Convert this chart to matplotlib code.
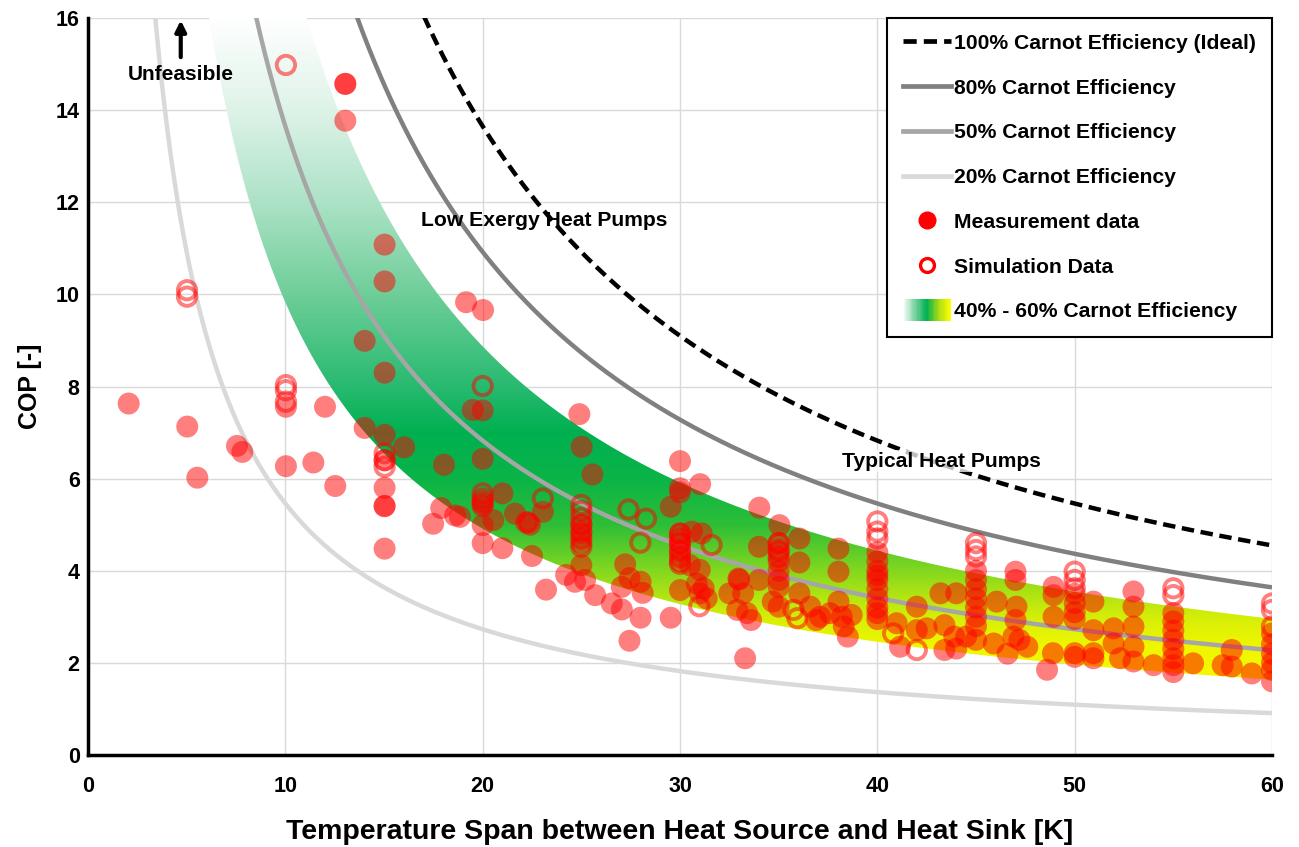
import numpy as np
import matplotlib
matplotlib.use("Agg")
import matplotlib.pyplot as plt
from matplotlib.lines import Line2D
from matplotlib.patches import Rectangle
from matplotlib.legend_handler import HandlerBase
from matplotlib.path import Path

plt.rcParams['font.family'] = ['Liberation Sans', 'DejaVu Sans']
plt.rcParams['font.weight'] = 'bold'

# ---------------- data ----------------
T_REF = 273.0  # K
carnot_effs = [1.0, 0.8, 0.5, 0.2]
carnot_labels = ["100% Carnot Efficiency (Ideal)", "80% Carnot Efficiency",
                 "50% Carnot Efficiency", "20% Carnot Efficiency"]
band_lo_eff = 0.36
band_hi_eff = 0.65
band_label = "40% - 60% Carnot Efficiency"

meas_x = [2.06, 5.03, 5.54, 7.55, 7.82, 10.03, 10.03, 11.42, 12.01, 12.53, 13.04, 13.04, 13.04,
          14.02, 14.02, 15.03, 15.03, 15.03, 15.03, 15.03, 15.03, 15.03, 15.03, 15.03, 16.02,
          17.49, 17.9, 18.04, 18.6, 18.85, 19.16, 19.5, 20.02, 20.0, 20.0, 20.0, 20.0, 20.0, 20.0,
          20.54, 21.0, 21.0, 21.64, 22.2, 22.4, 22.5, 23.05, 23.21, 24.23, 24.68, 24.9, 25.02,
          25.0, 25.0, 25.0, 25.0, 25.19, 25.56, 25.7, 26.54, 27.05, 27.05, 27.22, 27.44, 27.44,
          28.0, 28.11, 28.0, 29.53, 29.53, 30.0, 30.0, 30.0, 30.0, 30.0, 30.0, 30.0, 30.0,
          30.5, 30.6, 31.02, 31.0, 31.1, 30.85, 31.2, 31.0, 31.35, 32.5, 32.96, 32.9, 33.0, 33.2,
          33.3, 33.4, 33.6, 34.02, 34.0, 34.0, 34.7, 35.04, 35.0, 35.0, 35.0, 35.0, 35.0, 35.0,
          35.0, 36.05, 36.05, 36.05, 36.6, 37.1, 36.9, 37.6, 38.03, 38.03, 38.03, 38.2, 38.7,
          38.3, 38.5, 40.0, 40.0, 40.0, 40.0, 40.0, 40.0, 40.0, 40.0, 40.0, 40.0, 40.98, 41.15,
          42.0, 42.5, 42.0, 43.2, 43.4, 43.4, 44.0, 44.0, 43.9, 45.0, 45.0, 45.0, 45.0, 45.0,
          45.0, 45.0, 44.5, 45.0, 46.05, 45.9, 46.6, 47.0, 47.0, 47.05, 47.0, 46.9, 47.2, 47.6,
          48.6, 48.93, 48.93, 48.93, 48.9, 50.0, 50.0, 50.0, 50.0, 50.0, 50.0, 50.95, 50.95,
          50.95, 50.95, 51.97, 51.97, 52.3, 52.98, 52.98, 52.98, 52.98, 52.98, 54.0, 55.0, 55.0,
          55.0, 55.0, 55.0, 55.0, 55.0, 55.0, 56.0, 57.96, 57.96, 57.5, 58.98, 60.0, 60.0, 60.0,
          60.0, 60.0, 60.0]
meas_y = [7.63, 7.13, 6.02, 6.71, 6.58, 7.56, 6.27, 6.35, 7.56, 5.84, 14.57, 14.57, 13.77,
          8.99, 7.10, 11.08, 10.28, 8.30, 6.95, 6.40, 5.80, 5.41, 5.40, 4.48, 6.68,
          5.02, 5.36, 6.30, 5.20, 5.17, 9.83, 7.49, 9.66, 7.48, 6.43, 5.50, 5.40, 4.99, 4.60,
          5.10, 5.68, 4.49, 5.24, 5.05, 5.00, 4.32, 5.28, 3.59, 3.91, 3.76, 7.40, 6.69,
          5.00, 4.80, 4.60, 4.12, 3.80, 6.09, 3.47, 3.29, 3.65, 3.16, 4.14, 3.84, 2.48,
          3.76, 3.52, 2.98, 5.39, 2.98, 6.38, 5.79, 5.70, 4.80, 4.60, 4.40, 4.20, 3.58,
          4.12, 4.85, 5.88, 4.02, 4.81, 3.72, 3.62, 3.51, 3.40, 3.51, 3.83, 3.15, 3.81, 3.51,
          2.10, 3.08, 2.93, 5.37, 4.52, 3.80, 3.33, 4.99, 4.60, 4.40, 4.20, 4.00, 3.80, 3.65,
          3.22, 4.70, 4.18, 3.51, 3.22, 3.00, 2.93, 3.08, 4.48, 3.98, 3.33, 3.00, 3.04,
          2.79, 2.57, 4.40, 4.20, 4.00, 3.90, 3.80, 3.60, 3.40, 3.20, 3.08, 2.95, 2.86, 2.35,
          3.22, 2.75, 2.71, 3.51, 2.82, 2.28, 2.31, 3.51, 2.57, 4.00, 3.80, 3.60, 3.40, 3.20,
          3.00, 2.80, 2.57, 2.50, 3.33, 2.42, 2.20, 3.98, 3.80, 3.22, 2.93, 2.57, 2.50, 2.35,
          1.85, 3.65, 3.47, 3.00, 2.21, 3.50, 3.30, 3.10, 2.95, 2.21, 2.13, 3.33, 2.71,
          2.21, 2.10, 2.75, 2.42, 2.10, 3.55, 3.22, 2.79, 2.35, 2.03, 1.95, 3.08, 2.90,
          2.70, 2.50, 2.30, 2.10, 1.95, 1.80, 1.99, 2.28, 1.92, 1.95, 1.77, 2.64, 2.40, 2.20,
          2.00, 1.85, 1.60]

sim_x = [5.02, 5.02, 10.03, 10.03, 10.03, 10.03, 15.03, 15.03, 15.03, 20.0, 20.0, 20.0, 20.0,
         22.3, 23.05, 25.0, 25.0, 25.0, 25.0, 25.0, 25.0, 25.0, 27.39, 28.28, 27.99,
         30.0, 30.0, 30.0, 30.0, 30.0, 30.0, 30.98, 31.6, 35.0, 35.0, 35.0, 35.75, 35.95,
         40.0, 40.0, 40.0, 40.8, 42.0, 45.0, 45.0, 45.0, 50.0, 50.0, 50.0, 55.0, 55.0,
         60.0, 60.0, 60.0]
sim_y = [10.09, 9.95, 14.98, 8.03, 7.92, 7.67, 6.55, 6.40, 6.26, 8.01, 5.68, 5.57, 5.46,
         5.05, 5.57, 5.43, 5.30, 5.15, 5.00, 4.85, 4.70, 4.52, 5.33, 5.13, 4.61,
         4.81, 4.70, 4.60, 4.45, 4.30, 4.15, 3.23, 4.56, 4.60, 4.45, 4.30, 3.15, 2.97,
         5.07, 4.85, 4.70, 2.64, 2.28, 4.60, 4.45, 4.31, 3.98, 3.80, 3.62, 3.62, 3.47,
         3.29, 3.15, 2.79]

# ---------------- styling ----------------
line_colors = ['black', '#808080', '#A6A6A6', '#D9D9D9']
line_styles = [(0, (2.8, 1.5)), '-', '-', '-']

grad_stops_y = [1.0, 2.4, 3.0, 3.6, 4.3, 5.0, 6.0, 7.0, 8.0, 10.0, 12.0, 14.0, 16.0]
grad_stops_c = [(248, 252, 0), (238, 246, 0), (212, 238, 8), (165, 225, 22), (105, 208, 38),
                (45, 190, 55), (10, 180, 72), (0, 176, 80), (40, 186, 112), (110, 206, 152),
                (172, 226, 198), (222, 243, 232), (255, 255, 255)]

W, H = 1299, 847
fig = plt.figure(figsize=(W / 100, H / 100), dpi=100)
ax = fig.add_axes([88 / W, 1 - 755 / H, (1272 - 88) / W, (755 - 18) / H])

xx = np.linspace(0.5, 60, 2000)

# gradient band
x_band = np.linspace(band_lo_eff * T_REF / 17.0, 60, 800)
y_lo = band_lo_eff * T_REF / x_band
y_hi = np.minimum(band_hi_eff * T_REF / x_band, 17.0)
verts = np.vstack([np.column_stack([x_band, y_hi]), np.column_stack([x_band[::-1], y_lo[::-1]])])
clip_path = Path(verts, closed=True)
gy = np.linspace(0, 16, 600)
cs = np.array(grad_stops_c) / 255.0
img = np.zeros((len(gy), 1, 3))
for k in range(3):
    img[:, 0, k] = np.interp(gy, grad_stops_y, cs[:, k])
im = ax.imshow(img, extent=[0, 60, 0, 16], origin='lower', aspect='auto', zorder=1.5,
               interpolation='bilinear')
im.set_clip_path(clip_path, transform=ax.transData)

# carnot lines
for eff, col, ls in zip(carnot_effs, line_colors, line_styles):
    ax.plot(xx, eff * T_REF / xx, color=col, lw=3.2, ls=ls, zorder=2, solid_capstyle='butt')

# scatter
ax.scatter(meas_x, meas_y, s=250, color=(1, 0, 0, 0.5), edgecolors='none', zorder=3)
ax.scatter(sim_x, sim_y, s=175, facecolors='none', edgecolors=(1, 0, 0, 0.5), linewidths=2.8,
           zorder=3)

ax.set_xlim(0, 60)
ax.set_ylim(0, 16)
ax.set_xticks(range(0, 61, 10))
ax.set_yticks(range(0, 17, 2))
ax.grid(True, color='#D9D9D9', lw=1)
ax.set_axisbelow(True)
for s in ['top', 'right']:
    ax.spines[s].set_visible(False)
for s in ['left', 'bottom']:
    ax.spines[s].set_linewidth(2.5)
    ax.spines[s].set_color('black')
ax.tick_params(axis='x', length=0, labelsize=15.5, pad=15)
ax.tick_params(axis='y', length=0, labelsize=15.5, pad=6)
for lab in ax.get_xticklabels() + ax.get_yticklabels():
    lab.set_fontweight('bold')

ax.set_xlabel("Temperature Span between Heat Source and Heat Sink [K]", fontsize=20.5,
              fontweight='bold', labelpad=16)
ax.set_ylabel("COP [-]", fontsize=18, fontweight='bold', labelpad=10)

# annotations
ax.annotate('', xy=(4.7, 15.95), xytext=(4.7, 15.15),
            arrowprops=dict(arrowstyle='-|>', lw=3, color='black', mutation_scale=16,
                            shrinkA=0, shrinkB=0), zorder=5)
ax.text(4.7, 14.78, "Unfeasible", ha='center', va='center', fontsize=15, fontweight='bold',
        zorder=5)
ax.text(16.9, 11.6, "Low Exergy Heat Pumps", ha='left', va='center', fontsize=15.2,
        fontweight='bold', zorder=5)
ax.text(38.2, 6.38, "Typical Heat Pumps", ha='left', va='center', fontsize=15.2,
        fontweight='bold', zorder=5,
        bbox=dict(facecolor='white', edgecolor='none', alpha=0.75, pad=1))


# legend
class GradHandler(HandlerBase):
    def create_artists(self, legend, orig_handle, xdescent, ydescent, width, height,
                       fontsize, trans):
        n = 40
        arts = []
        lx = np.linspace(0, 1, 5)
        lc = np.array([(255, 255, 255), (120, 210, 160), (0, 176, 80), (170, 220, 20),
                       (255, 255, 0)]) / 255.0
        h = height * 1.45
        y0 = -ydescent + height / 2 - h / 2
        for i in range(n):
            t = i / (n - 1)
            c = [np.interp(t, lx, lc[:, k]) for k in range(3)]
            r = Rectangle((-xdescent + i * width / n, y0), width / n * 1.05, h,
                          facecolor=c, edgecolor='none', transform=trans)
            arts.append(r)
        return arts


class GradProxy:
    pass


handles = []
for eff, col, ls in zip(carnot_effs, line_colors, line_styles):
    handles.append(Line2D([], [], color=col, lw=3.4, ls=ls))
handles.append(Line2D([], [], marker='o', ls='none', markersize=12, color='red',
                      markeredgecolor='red'))
handles.append(Line2D([], [], marker='o', ls='none', markersize=10, markerfacecolor='none',
                      markeredgecolor='red', markeredgewidth=2.4))
handles.append(GradProxy())
labels = carnot_labels + ["Measurement data", "Simulation Data", band_label]

leg = ax.legend(handles, labels, loc='upper right', bbox_to_anchor=(1.0, 1.0),
                borderaxespad=0, prop={'weight': 'bold', 'size': 15.2},
                frameon=True, fancybox=False, edgecolor='black', framealpha=1,
                handlelength=2.3, handletextpad=0.15, labelspacing=1.22, borderpad=0.75,
                handler_map={GradProxy: GradHandler()})
leg.get_frame().set_linewidth(1.5)
leg.set_zorder(10)

fig.savefig("out.png", dpi=100)
